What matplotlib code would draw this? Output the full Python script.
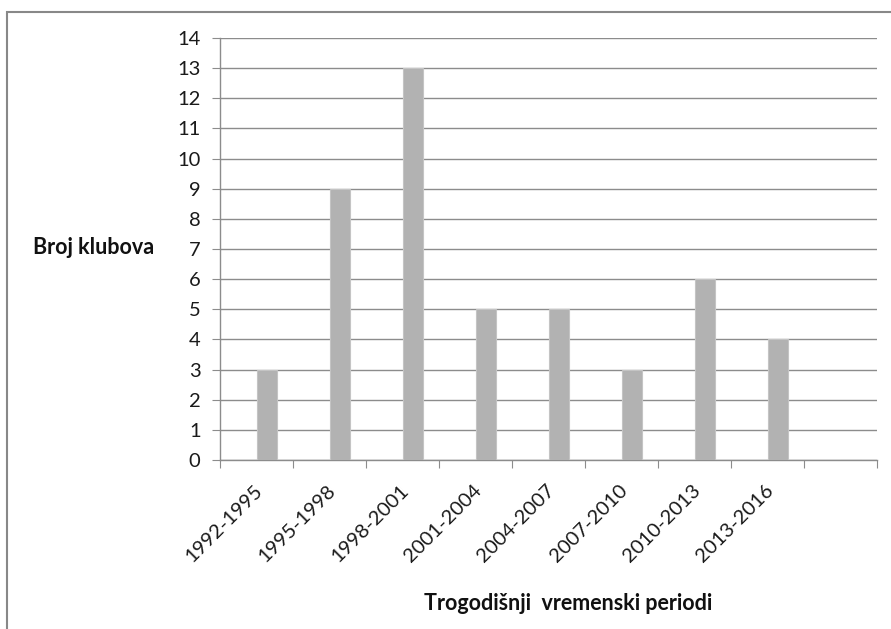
import numpy as np
import matplotlib
matplotlib.use('Agg')
import matplotlib.pyplot as plt
from matplotlib.patches import Rectangle

plt.rcParams['font.family'] = ['Lato', 'DejaVu Sans']

#categories and values
periods = ['1992-1995', '1995-1998', '1998-2001', '2001-2004', '2004-2007',
           '2007-2010', '2010-2013', '2013-2016', '']
clubs = [3, 9, 13, 5, 5, 3, 6, 4, None]

n_cat = len(periods)
vals = np.array([v if v is not None else 0 for v in clubs], dtype=float)
idx = np.arange(n_cat)

fig = plt.figure(figsize=(8.91, 6.29), dpi=100)
ax = fig.add_axes([220/891, 1-460/629, (877-220)/891, (460-38)/629])

grid_c = '#8c8c8c'
ax.bar(idx + 0.5, vals, width=0.28, align='edge', color='#b2b2b2',
       edgecolor='#c4c4c4', linewidth=0.8, zorder=3)

ax.set_xlim(0, n_cat)
ax.set_ylim(0, 14)
ax.set_yticks(np.arange(0, 15, 1))
ax.yaxis.grid(True, color=grid_c, linewidth=1.0, zorder=0)

for s in ['top', 'right']:
    ax.spines[s].set_visible(False)
for s in ['left', 'bottom']:
    ax.spines[s].set_color(grid_c)
    ax.spines[s].set_linewidth(1.0)

#boundary ticks (no labels) and centred labels on minor ticks
ax.set_xticks(np.arange(0, n_cat + 1))
ax.set_xticklabels([])
ax.set_xticks(idx + 0.55, minor=True)
ax.set_xticklabels(periods, minor=True, rotation=45, ha='right', va='center',
                   rotation_mode='anchor', fontsize=14.5, color='#1a1a1a')
ax.tick_params(axis='x', which='major', length=6, color=grid_c, direction='out')
ax.tick_params(axis='x', which='minor', length=0, pad=20)
ax.tick_params(axis='y', length=6, color=grid_c, pad=8, labelsize=14.5,
               labelcolor='#1a1a1a')

fig.text(33/891, 1-248/629, 'Broj klubova', fontsize=15.5, fontweight='bold',
         ha='left', va='center', color='#111111')
fig.text(568/891, 1-603/629, 'Trogodišnji  vremenski periodi', fontsize=15.5,
         fontweight='bold', ha='center', va='center', color='#111111')

#outer chart frame
fig.patches.append(Rectangle((7/891, -0.1), 1.2, 1.1 - 12/629,
                             transform=fig.transFigure, fill=False,
                             edgecolor='#888888', linewidth=1.5))

plt.savefig('out.png', dpi=100)
